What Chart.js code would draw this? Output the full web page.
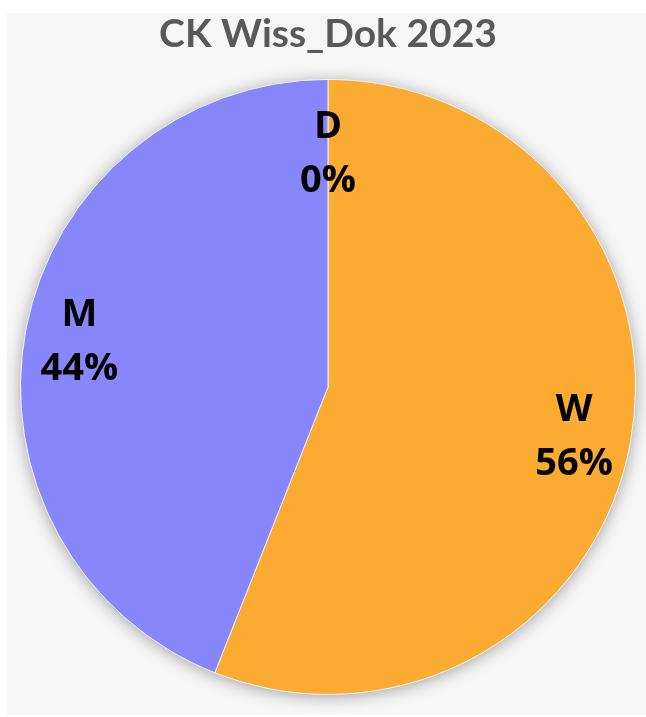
<!DOCTYPE html>
<html>
<head>
<meta charset="utf-8">
<script src="https://cdn.jsdelivr.net/npm/chart.js@4.4.0/dist/chart.umd.min.js"></script>
<style>
  html, body { margin: 0; padding: 0; background: #fff; }
  #panel { position: absolute; left: 7px; top: 13px; width: 639px; height: 702px; background: #f6f6f6; }
  #wrap { position: absolute; left: 0; top: 0; width: 646px; height: 717px; }
</style>
</head>
<body>
<div id="panel"></div>
<div id="wrap"><canvas id="pieChart" width="646" height="717"></canvas></div>
<script>
// Daten
const categories = ["D", "W", "M"];
const shares = [0, 56, 44];
const sliceColors = ["#a5a5a5", "#fbab31", "#8787fb"];

// Beschriftungen: Kategorie + Prozent, innerhalb der Segmente
const sliceLabels = {
  id: "sliceLabels",
  afterDatasetsDraw(chart, args, opts) {
    const ctx = chart.ctx;
    const meta = chart.getDatasetMeta(0);
    const data = chart.data.datasets[0].data;
    const total = data.reduce((a, b) => a + b, 0);
    ctx.save();
    ctx.fillStyle = "#000";
    ctx.font = "bold 38px 'Open Sans', sans-serif";
    ctx.textAlign = "center";
    ctx.textBaseline = "middle";
    meta.data.forEach((arc, i) => {
      const p = arc.getProps(["x", "y", "startAngle", "endAngle", "outerRadius"], true);
      const mid = (p.startAngle + p.endAngle) / 2;
      const r = p.outerRadius * opts.radius[i];
      const x = p.x + Math.cos(mid) * r;
      const y = p.y + Math.sin(mid) * r + 3;
      const pct = Math.round((data[i] / total) * 100) + "%";
      ctx.fillText(chart.data.labels[i], x, y - 27);
      ctx.fillText(pct, x, y + 27);
    });
    ctx.restore();
  },
};

// leichter Schatten um den Kreis
const pieShadow = {
  id: "pieShadow",
  beforeDatasetsDraw(chart) {
    const ctx = chart.ctx;
    const arc = chart.getDatasetMeta(0).data[1];
    ctx.save();
    ctx.shadowColor = "rgba(0,0,0,0.35)";
    ctx.shadowBlur = 16;
    ctx.shadowOffsetY = 2;
    ctx.fillStyle = "#f6f6f6";
    ctx.beginPath();
    ctx.arc(arc.x, arc.y, arc.outerRadius, 0, Math.PI * 2);
    ctx.fill();
    ctx.restore();
  },
};

new Chart(document.getElementById("pieChart"), {
  type: "pie",
  data: {
    labels: categories,
    datasets: [
      {
        data: shares,
        backgroundColor: sliceColors,
        borderColor: "#f2f2f2",
        borderWidth: 1,
      },
    ],
  },
  options: {
    responsive: false,
    animation: false,
    layout: { padding: { left: 20, right: 10, top: 0, bottom: 22 } },
    plugins: {
      legend: { display: false },
      tooltip: { enabled: false },
      title: {
        display: true,
        text: "CK Wiss_Dok 2023",
        color: "#595959",
        font: { size: 39, weight: "bold", family: "Lato, 'Open Sans', sans-serif", lineHeight: 1.2 },
        padding: { top: 11, bottom: 21 },
      },
      sliceLabels: { radius: [0.765, 0.815, 0.823] },
    },
  },
  plugins: [pieShadow, sliceLabels],
});
</script>
</body>
</html>
